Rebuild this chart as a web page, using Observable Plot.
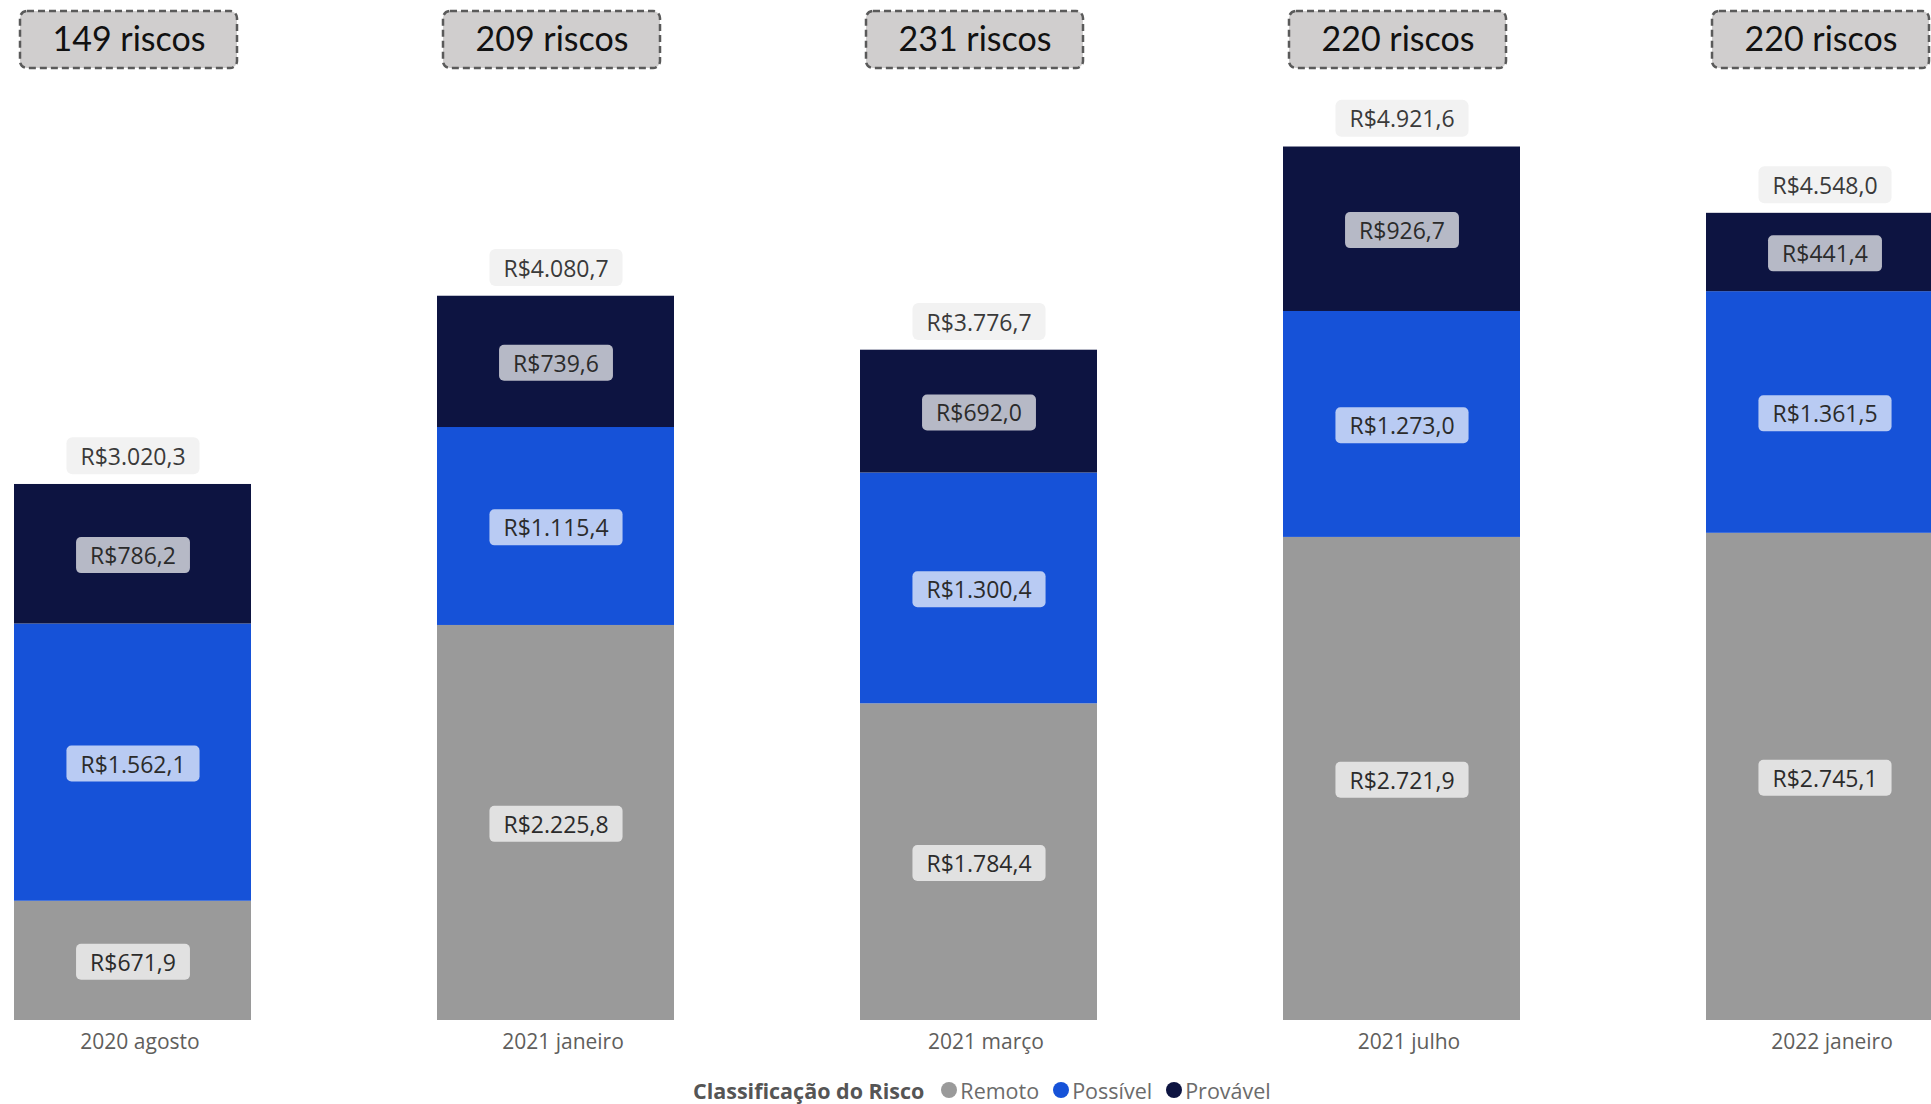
<!DOCTYPE html>
<html>
<head>
<meta charset="utf-8">
<script src="https://cdn.jsdelivr.net/npm/d3@7"></script>
<script src="https://cdn.jsdelivr.net/npm/@observablehq/plot@0.6"></script>
<style>
  html, body { margin: 0; padding: 0; background: #fff; overflow: hidden; width: 1931px; height: 1104px; }
  #legend { display: flex; align-items: center; height: 28px; padding-left: 693px;
            font-family: "Open Sans", "Noto Sans", sans-serif; font-size: 21.5px; color: #6b6b6b; }
  #legend .lt { font-weight: 700; color: #555; margin-right: 17px; }
  #legend .it { display: flex; align-items: center; margin-right: 14px; }
  #legend .dot { width: 16px; height: 16px; border-radius: 50%; margin-right: 3px; }
</style>
</head>
<body>
<div id="chart"></div>
<div id="legend"></div>
<script>
// ---- data ----
const periods = ["2020 agosto", "2021 janeiro", "2021 março", "2021 julho", "2022 janeiro"];
const series = ["Remoto", "Possível", "Provável"];
const seriesColors = ["#9A9A9A", "#1652D8", "#0D1441"];
const remoto   = [671.9, 2225.8, 1784.4, 2721.9, 2745.1];
const possivel = [1562.1, 1115.4, 1300.4, 1273.0, 1361.5];
const provavel = [786.2, 739.6, 692.0, 926.7, 441.4];
const totals   = [3020.3, 4080.7, 3776.7, 4921.6, 4548.0];
const riskCounts = [149, 209, 231, 220, 220];

// ---- tables ----
const seriesValues = [remoto, possivel, provavel];
const stackRows = [];
periods.forEach((p, i) => series.forEach((s, j) => stackRows.push({period: p, series: s, value: seriesValues[j][i]})));
const totalRows = periods.map((p, i) => ({period: p, total: totals[i]}));
const countRows = periods.map((p, i) => ({period: p, n: riskCounts[i]}));

const locale = d3.formatLocale({decimal: ",", thousands: ".", grouping: [3], currency: ["R$", ""]});
const fmt = locale.format("$,.1f");

const pxPerUnit = 0.17748;
const baseline = 1020;

const plot = Plot.plot({
  width: 1931,
  height: 1076,
  marginTop: 10,
  marginBottom: 56,
  marginLeft: 0,
  marginRight: 0,
  style: {background: "#fff", overflow: "hidden", fontFamily: "'Open Sans', 'Noto Sans', sans-serif"},
  x: {domain: periods, range: [13.5, 1942.5], paddingInner: 0.44, paddingOuter: 0, axis: null},
  y: {domain: [0, 5000], range: [baseline, baseline - 5000 * pxPerUnit], axis: null},
  color: {domain: series, range: seriesColors},
  marks: [
    Plot.barY(stackRows, {x: "period", y: "value", fill: "series"}),
    Plot.text(stackRows, Plot.stackY({x: "period", y: "value", text: d => fmt(d.value), dy: 2.5,
      fill: "#2b2b2b", fontSize: 23, ariaDescription: "seg-labels"})),
    Plot.text(totalRows, {x: "period", y: "total", text: d => fmt(d.total), dy: -27,
      fill: "#3a3a3a", fontSize: 23, ariaDescription: "total-labels"}),
    Plot.cell(countRows, {x: "period", fill: "#D0CECE", stroke: "#5A5A5A", strokeWidth: 2.5,
      strokeDasharray: "7,4", rx: 7, insetLeft: 6, insetRight: 14, insetTop: 1, insetBottom: 952}),
    Plot.text(countRows, {x: "period", text: d => `${d.n} riscos`, frameAnchor: "top", lineAnchor: "middle",
      dy: 30, dx: -4, fontSize: 34, fontFamily: "Lato, sans-serif", fill: "#111"}),
    Plot.text(periods, {x: d => d, text: d => d, frameAnchor: "bottom", lineAnchor: "middle", dy: 22, dx: 7,
      fontSize: 21, fill: "#605E5C"})
  ]
});
document.getElementById("chart").appendChild(plot);

// rounded label backgrounds sized from each rendered text
function addBoxes(label, fill, opacity, padX, h, r) {
  plot.querySelectorAll(`g[aria-description="${label}"] text`).forEach(t => {
    const b = t.getBBox();
    const rect = document.createElementNS("http://www.w3.org/2000/svg", "rect");
    const cy = b.y + b.height / 2;
    rect.setAttribute("x", b.x - padX);
    rect.setAttribute("y", cy - h / 2);
    rect.setAttribute("width", b.width + 2 * padX);
    rect.setAttribute("height", h);
    rect.setAttribute("rx", r);
    rect.setAttribute("fill", fill);
    rect.setAttribute("fill-opacity", opacity);
    rect.setAttribute("stroke", "none");
    const tr = t.getAttribute("transform");
    if (tr) rect.setAttribute("transform", tr);
    t.parentNode.insertBefore(rect, t);
  });
}
addBoxes("seg-labels", "#ffffff", 0.7, 14, 36, 5);
addBoxes("total-labels", "#F2F2F2", 1, 14, 37, 6);

// legend
const legend = document.getElementById("legend");
legend.innerHTML = `<span class="lt">Classificação do Risco</span>` +
  series.map((s, i) => `<span class="it"><span class="dot" style="background:${seriesColors[i]}"></span>${s}</span>`).join("");
</script>
</body>
</html>
